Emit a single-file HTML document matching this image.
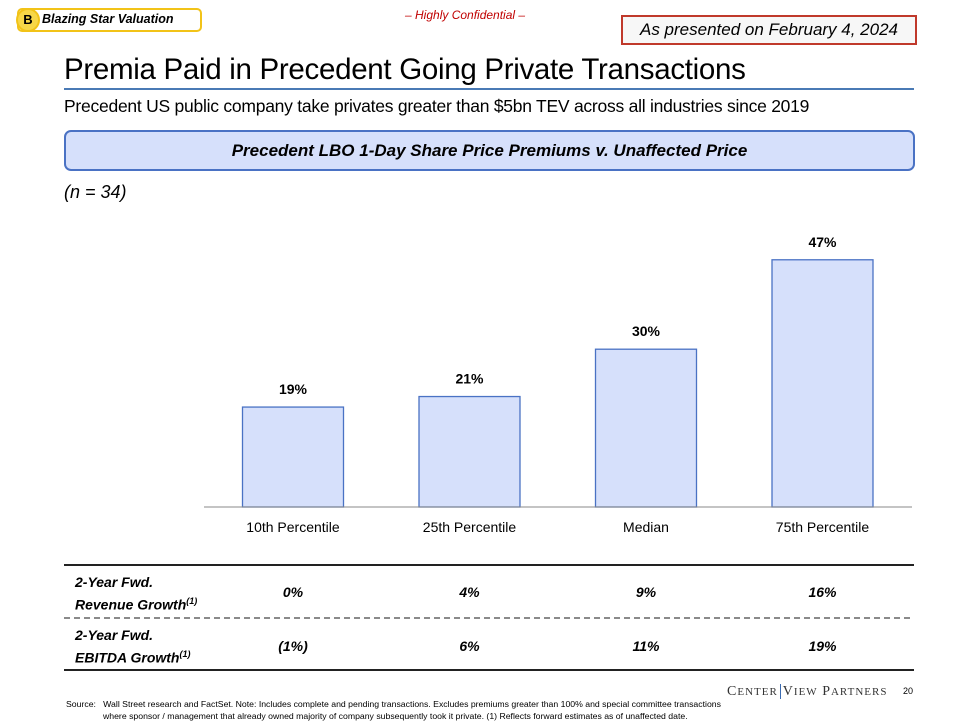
<!DOCTYPE html>
<html><head><meta charset="utf-8"><style>
body{margin:0;width:960px;height:720px;background:#fff;font-family:"Liberation Sans",sans-serif;position:relative;overflow:hidden;color:#000}
.a{position:absolute;white-space:nowrap}
</style></head><body>
<div class="a" style="left:17px;top:8px;width:181px;height:20px;border:2px solid #f2c318;border-radius:5px;"></div>
<div class="a" style="left:16px;top:8px;width:20px;height:20px;border:2px solid #f2c318;border-radius:50%;background:#f7d748;font-weight:bold;font-size:13px;text-align:center;line-height:20px">B</div>
<div class="a" style="left:42px;top:12px;font-size:12.5px;font-style:italic;font-weight:bold">Blazing Star Valuation</div>
<div class="a" style="left:405px;top:8px;font-size:12px;font-style:italic;color:#c00000">– Highly Confidential –</div>
<div class="a" style="left:621px;top:15px;width:292px;height:26px;border:2px solid #c0392b;background:#f7f7f7;font-size:17px;font-style:italic;text-align:center;line-height:26px">As presented on February 4, 2024</div>
<div class="a" style="left:64px;top:53px;font-size:29.5px;letter-spacing:-0.3px">Premia Paid in Precedent Going Private Transactions</div>
<div class="a" style="left:64px;top:88px;width:850px;height:1.5px;background:#4a7ab5"></div>
<div class="a" style="left:64px;top:96px;font-size:17.5px;letter-spacing:-0.25px">Precedent US public company take privates greater than $5bn TEV across all industries since 2019</div>
<div class="a" style="left:64px;top:130px;width:847px;height:37px;border:2px solid #4a72c4;border-radius:7px;background:#d6e0fb;font-size:17px;font-weight:bold;font-style:italic;text-align:center;line-height:37px">Precedent LBO 1-Day Share Price Premiums v. Unaffected Price</div>
<div class="a" style="left:64px;top:182px;font-size:18px;font-style:italic">(n = 34)</div>
<svg class="a" id="chart" style="left:0;top:0" width="960" height="720"></svg>
<svg class="a" style="left:0;top:0" width="960" height="720">
<line x1="64" y1="565" x2="914" y2="565" stroke="#222" stroke-width="2"/>
<line x1="64" y1="618" x2="914" y2="618" stroke="#444" stroke-width="1.2" stroke-dasharray="6,4"/>
<line x1="64" y1="670" x2="914" y2="670" stroke="#222" stroke-width="2"/>
</svg>
<div class="a" style="left:75px;top:573px;font-size:14px;font-weight:bold;font-style:italic;line-height:19px">2-Year Fwd.<br>Revenue Growth<sup style="font-size:9px">(1)</sup></div>
<div class="a" style="left:75px;top:626px;font-size:14px;font-weight:bold;font-style:italic;line-height:19px">2-Year Fwd.<br>EBITDA Growth<sup style="font-size:9px">(1)</sup></div>
<div class="a" style="left:66px;top:698px;font-size:8.7px;line-height:12px">Source:&nbsp;&nbsp;&nbsp;Wall Street research and FactSet. Note: Includes complete and pending transactions. Excludes premiums greater than 100% and special committee transactions<br><span style="padding-left:37px">where sponsor / management that already owned majority of company subsequently took it private. (1) Reflects forward estimates as of unaffected date.</span></div>
<div class="a" style="left:727px;top:684px;font-size:14px;font-family:'Liberation Serif',serif;letter-spacing:1px;color:#333">C<span style="font-size:11px">ENTER</span><span style="border-left:1px solid #3a6ab0;margin:0 2px"></span>V<span style="font-size:11px">IEW</span> P<span style="font-size:11px">ARTNERS</span></div>
<div class="a" style="left:903px;top:686px;font-size:9px">20</div>
<script>
const categories=["10th Percentile","25th Percentile","Median","75th Percentile"];
const premiums=[19,21,30,47];
const revenueGrowth=["0%","4%","9%","16%"];
const ebitdaGrowth=["(1%)","6%","11%","19%"];
const NS="http://www.w3.org/2000/svg";
const svg=document.getElementById("chart");
const base=507,scale=5.26,x0=293,step=176.5,bw=101;
const xPos=i=>x0+i*step;
const yPos=v=>base-v*scale;
function mk(t,a){const e=document.createElementNS(NS,t);for(const k in a)e.setAttribute(k,a[k]);svg.appendChild(e);return e;}
premiums.forEach((v,i)=>{
 const r=mk("rect",{x:xPos(i)-bw/2,y:yPos(v),width:bw,height:v*scale,fill:"#d6e0fb",stroke:"#4a72c4","stroke-width":1.3});
 
 
 const t=mk("text",{x:xPos(i),y:yPos(v)-13,"text-anchor":"middle","font-size":14,"font-weight":"bold","font-family":"Liberation Sans"});
 t.textContent=v+"%";
 
 
 const c=mk("text",{x:xPos(i),y:532,"text-anchor":"middle","font-size":14,"font-family":"Liberation Sans"});
 c.textContent=categories[i];
 
 
});
const ax=mk("line",{x1:204,y1:base,x2:912,y2:base,stroke:"#888","stroke-width":1});


function row(arr,y){arr.forEach((s,i)=>{const t=mk("text",{x:xPos(i),y:y,"text-anchor":"middle","font-size":14,"font-weight":"bold","font-style":"italic","font-family":"Liberation Sans"});t.textContent=s;
 
 });}
row(revenueGrowth,597);row(ebitdaGrowth,651);
</script>
</body></html>
